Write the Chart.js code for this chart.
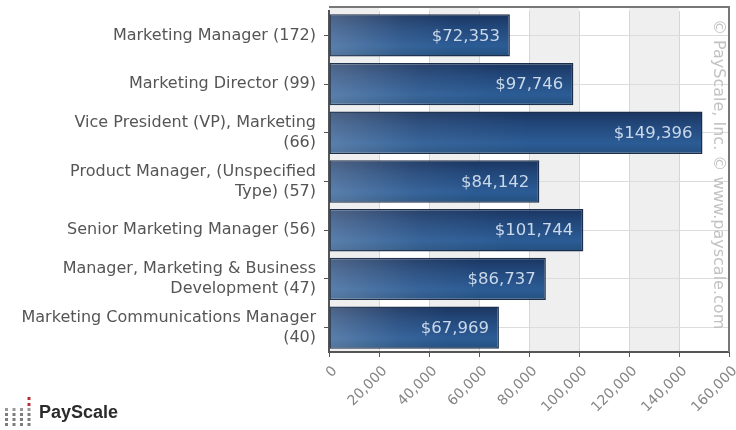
<!DOCTYPE html>
<html><head><meta charset="utf-8">
<script src="https://cdn.jsdelivr.net/npm/chart.js@4/dist/chart.umd.min.js"></script>
<style>html,body{margin:0;padding:0;background:#fff}#wrap{width:736px;height:430px}</style>
</head><body><div id="wrap"><canvas id="c" width="736" height="430"></canvas></div>
<script>
const categories = [
  "Marketing Manager (172)",
  "Marketing Director (99)",
  ["Vice President (VP), Marketing", "(66)"],
  ["Product Manager, (Unspecified", "Type) (57)"],
  "Senior Marketing Manager (56)",
  ["Manager, Marketing & Business", "Development (47)"],
  ["Marketing Communications Manager", "(40)"]
];
const salaries = [72353, 97746, 149396, 84142, 101744, 86737, 67969];
const valueLabels = ["$72,353", "$97,746", "$149,396", "$84,142", "$101,744", "$86,737", "$67,969"];
const xTicks = [0, 20000, 40000, 60000, 80000, 100000, 120000, 140000, 160000];
const watermark = "\u00a9 PayScale, Inc. \u00a9 www.payscale.com";
const brand = "PayScale";

const FONT = "'DejaVu Sans', Verdana, sans-serif";
const BAR_PCT = 0.87;

const bgPlugin = {
  id: 'bands',
  beforeDraw(chart) {
    const {ctx, chartArea: a, scales: {x}} = chart;
    const top = a.top - 4;
    ctx.save();
    for (let i = 0; i < xTicks.length - 1; i++) {
      if (i % 2 === 0) {
        const x0 = x.getPixelForValue(xTicks[i]);
        const x1 = x.getPixelForValue(xTicks[i + 1]);
        ctx.fillStyle = '#efefef';
        ctx.fillRect(x0, top, x1 - x0, a.bottom - top);
      }
    }
    ctx.restore();
  },
  afterDatasetsDraw(chart) {
    const {ctx, chartArea: a} = chart;
    const meta = chart.getDatasetMeta(0);
    ctx.save();
    meta.data.forEach((bar, i) => {
      const h = bar.height;
      const left = Math.min(bar.base, bar.x);
      const w = Math.abs(bar.x - bar.base);
      const top = bar.y - h / 2;
      if (Number.isFinite(w) && w > 0) {
        const g = ctx.createLinearGradient(left, 0, left + w, 0);
        g.addColorStop(0, 'rgba(255,255,255,0.22)');
        g.addColorStop(Math.min(0.4, 90 / w), 'rgba(255,255,255,0.06)');
        g.addColorStop(Math.min(0.7, 200 / w), 'rgba(255,255,255,0)');
        ctx.fillStyle = g;
        ctx.fillRect(left + 1, top + 1, w - 2, h - 2);
      }
      ctx.font = '16.5px ' + FONT;
      ctx.fillStyle = '#c9d8ea';
      ctx.textAlign = 'right';
      ctx.textBaseline = 'middle';
      ctx.fillText(valueLabels[i], bar.x - 10, bar.y + 1);
    });
    // frame
    ctx.strokeStyle = '#777';
    ctx.lineWidth = 2;
    ctx.beginPath();
    ctx.moveTo(a.left, a.top - 4);
    ctx.lineTo(a.right, a.top - 4);
    ctx.lineTo(a.right, a.bottom);
    ctx.stroke();
    // watermark
    ctx.save();
    ctx.translate(a.right - 11, a.top + 8);
    ctx.rotate(Math.PI / 2);
    ctx.font = '16px ' + FONT;
    ctx.fillStyle = '#c2c2c2';
    ctx.textAlign = 'left';
    ctx.textBaseline = 'middle';
    ctx.fillText(watermark, 0, 0);
    ctx.restore();
    // logo
    const ox = 5, oy = 408;
    for (let r = 0; r < 4; r++) {
      for (let c = 0; c < 4; c++) {
        ctx.fillStyle = (r === 0) ? '#9a9a9a' : '#7d7d7d';
        ctx.fillRect(ox + c * 7.5, oy + r * 5, 3, 3);
      }
    }
    ctx.fillStyle = '#b8303a';
    ctx.fillRect(ox + 22.5, oy - 5, 3, 3);
    ctx.fillRect(ox + 22.5, oy - 11, 3, 3);
    ctx.font = 'bold 18px "Liberation Sans", Arial, sans-serif';
    ctx.fillStyle = '#2b2b2b';
    ctx.textAlign = 'left';
    ctx.textBaseline = 'middle';
    ctx.fillText(brand, 39, 413);
    ctx.restore();
  }
};

new Chart(document.getElementById('c'), {
  type: 'bar',
  data: {
    labels: categories,
    datasets: [{
      data: salaries,
      backgroundColor(ctx) {
        const chart = ctx.chart;
        const ys = chart.scales && chart.scales.y;
        const a = chart.chartArea;
        if (!ys || !a || ctx.dataIndex === undefined) return '#2a5488';
        const cy = ys.getPixelForValue(ctx.dataIndex);
        const h = (a.bottom - a.top) / categories.length * BAR_PCT;
        if (!Number.isFinite(cy) || !Number.isFinite(h)) return '#2a5488';
        const g = chart.ctx.createLinearGradient(0, cy - h / 2, 0, cy + h / 2);
        g.addColorStop(0, '#1a3560');
        g.addColorStop(0.3, '#22477a');
        g.addColorStop(0.75, '#2c5c95');
        g.addColorStop(1, '#24507f');
        return g;
      },
      borderColor: '#1b2f4d',
      borderWidth: 1.5,
      borderSkipped: false,
      barPercentage: BAR_PCT,
      categoryPercentage: 1
    }]
  },
  options: {
    indexAxis: 'y',
    responsive: false,
    animation: false,
    devicePixelRatio: 1,
    layout: {padding: {top: 11, right: 7, left: 0, bottom: 0}},
    plugins: {legend: {display: false}, tooltip: {enabled: false}},
    scales: {
      x: {
        min: 0, max: 160000,
        afterBuildTicks(s) { s.ticks = xTicks.map(v => ({value: v})); },
        afterFit(s) { s.height = 78; s.paddingLeft = 0; s.paddingRight = 0; },
        grid: {color: '#d6d6d6', lineWidth: 1, tickLength: 5, tickColor: '#555', drawTicks: true},
        border: {color: '#555', width: 2},
        ticks: {
          minRotation: 45, maxRotation: 45, autoSkip: false, padding: 6, labelOffset: 6,
          color: '#858585', font: {family: FONT, size: 14},
          callback: v => v.toLocaleString('en-US')
        }
      },
      y: {
        afterFit(s) { s.width = 329; s.paddingTop = 0; s.paddingBottom = 0; },
        grid: {color: '#dcdcdc', tickLength: 5, tickColor: '#555', offset: false},
        border: {color: '#555', width: 2},
        ticks: {color: '#555', font: {family: FONT, size: 16, lineHeight: 1.25}, padding: 8, autoSkip: false}
      }
    }
  },
  plugins: [bgPlugin]
});
</script></body></html>
